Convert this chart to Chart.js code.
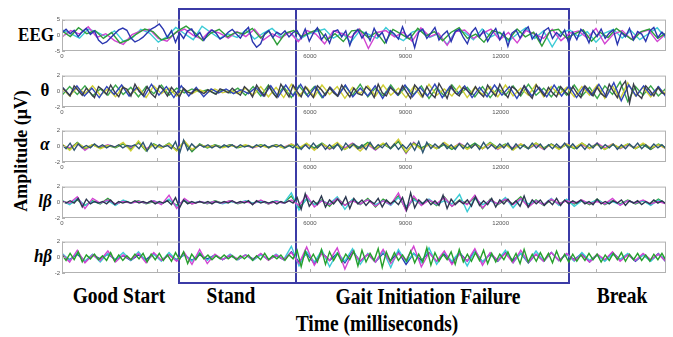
<!DOCTYPE html>
<html>
<head>
<meta charset="utf-8">
<script src="https://cdn.jsdelivr.net/npm/chart.js@4/dist/chart.umd.min.js"></script>
<style>
  body { margin: 0; background: #fff; }
  #wrap { position: relative; width: 673px; height: 337px; overflow: hidden; }
  #wrap canvas { position: absolute; left: 0; }
  .lbl { position: absolute; font-family: "Liberation Serif", "Times New Roman", serif; font-weight: bold; font-size: 17px; color: #000; white-space: nowrap; transform: translate(-50%, -50%) scaleY(1.15); }
  .big { font-size: 19.5px; }
  .it { font-style: italic; }
  .box { position: absolute; border: 2px solid #3b3ba6; box-sizing: border-box; }
</style>
</head>
<body>
<div id="wrap">
  <div class="lbl" style="left:36px;top:35px">EEG</div>
  <div class="lbl" style="left:45px;top:90px">θ</div>
  <div class="lbl it" style="left:45px;top:144px">α</div>
  <div class="lbl it" style="left:45px;top:201px">lβ</div>
  <div class="lbl it" style="left:43px;top:256px">hβ</div>
  <div class="lbl" style="left:21px;top:151px;font-size:18px;transform:translate(-50%,-50%) rotate(-90deg) scaleY(1.1)">Amplitude (μV)</div>
  <div class="lbl big" style="left:119px;top:296px">Good Start</div>
  <div class="lbl big" style="left:231px;top:296px">Stand</div>
  <div class="lbl big" style="left:428px;top:297px">Gait Initiation Failure</div>
  <div class="lbl big" style="left:622px;top:296px">Break</div>
  <div class="lbl big" style="left:377px;top:324px">Time (milliseconds)</div>
  <div class="box" style="left:178px;top:8px;width:392px;height:276px"></div>
  <div class="box" style="left:295px;top:8px;width:2px;height:276px;border-width:0 0 0 2px"></div>
</div>
<script>
// time span of the stitched record (ms) and the x tick marks
const spanMs = 19000;
const xTickPos = [0, 3000, 7800, 10800, 13800, 16800];
const xTickText = ['0', '', '6000', '9000', '12000', ''];

// EEG (raw)
const eegCh1 = [0.8,1.9,0.5,1.6,-0.4,1.1,2.2,0.3,1.4,-1.5,-2.7,-2.1,-0.8,0.5,1.7,2.3,1.6,-0.9,-2.1,-1.5,-0.6,0.7,2.0,2.7,3.6,1.9,-0.7,1.5,-2.2,0.8,
  -1.0,1.4,2.0,-0.4,0.9,-1.6,0.5,1.7,0.7,-1.2,-0.4,1.0,1.9,0.4,-0.9,1.2,2.5,-2.0,-3.8,-2.7,0.5,1.5,-0.7,1.0,0.2,1.4,-0.5,0.9,
  1.5,-1.0,2.0,-1.9,0.7,2.4,-1.4,0.4,-2.5,1.2,1.7,-0.5,1.4,-3.2,0.5,1.9,-0.9,1.0,-1.7,2.2,-0.4,0.9,-2.2,1.5,0.4,-1.2,2.7,-0.7,0.5,-3.9,
  1.0,2.0,-1.0,0.7,2.5,-1.5,0.2,1.4,-2.0,1.2,1.9,-0.7,-2.7,0.9,2.4,-0.5,1.5,-1.9,0.4,2.2,-1.4,1.0,-3.5,0.7,1.7,-0.9,1.4,2.7,-1.2,0.5,
  -2.0,1.5,2.4,-1.0,0.9,-0.4,1.7,-2.5,
  1.0,-1.4,1.9,0.5,-2.4,1.5,-0.4,2.0,-1.0,0.7,1.7,-2.9,0.9,-0.5,2.2,-1.5,1.2,0.4,-1.9,1.4,2.5,-0.7,1.0,-0.4];
const eegCh2 = [1.4,-0.4,2.4,0.5,1.5,-1.0,0.9,-2.4,-1.5,0.4,2.0,1.2,-1.5,-0.7,1.4,2.9,1.0,-1.7,0.7,1.9,
  -0.5,1.0,0.4,2.2,-0.9,1.4,-3.0,0.7,1.5,-0.4,
  0.9,2.0,-1.5,0.5,-2.0,1.4,1.7,-0.7,1.0,-2.5,1.9,0.4,-1.2,2.2,-0.2,1.2,-1.7,0.9,2.4,-1.0,
  0.4,-2.2,1.5,0.7,-1.4,2.0,-0.5,1.0,-3.4,1.4,1.9,-0.9,
  0.5,1.7,-1.9,1.0,-0.7,2.2,0.2,-1.5,1.2,2.0,-1.0,0.7];
const eegCh3 = [-0.5,1.5,0.4,2.7,-0.7,0.5,-1.7,-2.9,0.2,1.4,1.9,-1.0,-1.9,0.9,2.0,0.0,-1.2,1.7,0.7,-0.9,
  1.2,-0.4,1.9,-1.5,0.5,-0.9,1.0,-2.0,1.5,0.4,
  -2.7,1.4,0.5,-0.7,2.0,-4.2,0.9,1.5,-0.5,1.0,-1.9,2.4,-0.4,0.7,-3.2,1.2,1.7,-1.0,0.5,2.0,
  -1.4,0.9,-2.4,1.5,0.4,-1.0,1.9,-1.7,0.7,1.4,
  -0.9,2.2,-2.7,0.4,1.5,-1.2,0.9,1.7,-2.0,0.5];
const eegCh4 = [1.7,0.5,-0.9,2.0,1.0,-0.4,1.4,-1.9,-0.9,1.9,0.7,-2.2,-0.4,2.5,0.5,-1.4,2.9,0.9,-1.0,0.4,
  -0.7,1.7,-1.2,0.7,2.2,-0.5,1.0,-1.5,0.2,1.2,
  2.0,-0.9,0.7,-2.2,1.4,0.4,-1.0,2.5,-0.2,-1.7,1.0,1.9,-0.7,0.5,-2.9,1.5,0.9,-1.4,2.0,-0.5,
  1.0,-1.9,0.4,2.4,-1.0,1.4,-3.7,0.9,1.7,-0.4,
  1.2,-2.2,0.7,1.9,-0.9,1.5,-1.4,0.5,2.4,-1.0];

// theta band
const thetaCh1 = [0.5,0.0,-0.6,0.7,0.1,-0.5,0.4,-0.2,-0.8,0.6,0.2,-0.4,0.8,-0.1,-0.7,0.5,0.3,-0.6,0.9,0.0,-0.5,0.6,-0.3,-0.8,0.7,0.2,-0.6,0.5,-0.1,-0.7,
  0.4,-0.1,-0.3,0.3,0.0,-0.3,0.2,-0.1,-0.4,0.3,0.1,-0.2,0.4,-0.1,-0.5,0.6,0.1,-0.7,0.8,0.0,-0.6,0.7,-0.2,-0.8,0.9,0.1,-0.7,0.8,
  0.0,-0.7,0.6,-0.1,-0.8,0.7,0.2,-0.5,0.5,-0.2,-0.6,0.8,0.0,-0.7,0.4,-0.3,-0.5,0.6,0.1,-0.8,0.9,-0.2,-0.6,0.5,0.0,-0.4,0.7,-0.1,-0.9,0.8,
  0.2,-0.7,0.6,-0.3,-0.8,1.0,0.1,-0.9,0.7,-0.2,-0.6,0.5,0.1,-0.4,0.6,-0.2,-0.7,0.8,0.0,-0.6,0.9,-0.1,-0.8,0.6,0.2,-0.5,0.7,-0.3,-0.9,0.8,
  0.1,-0.6,0.5,-0.2,-0.7,0.6,0.0,-0.5,
  0.6,-0.2,-0.8,0.7,0.1,-0.6,0.5,-0.3,-0.7,0.9,0.0,-0.8,0.6,1.3,-1.5,0.9,-0.4,-0.9,0.7,0.1,-0.6,0.5,-0.2,-0.4];
const thetaCh2 = [0.6,-0.5,0.7,-0.6,0.4,-0.8,0.6,-0.4,0.8,-0.6,0.5,-0.7,0.9,-0.5,0.6,-0.8,0.7,-0.6,0.5,-0.7,
  0.3,-0.2,0.3,-0.3,0.2,-0.3,0.5,-0.6,0.7,-0.7,0.8,-0.6,0.9,
  -0.7,0.6,-0.8,0.5,-0.6,0.8,-0.7,0.4,-0.6,0.7,-0.9,0.6,-0.5,0.8,-0.7,0.5,-0.6,0.9,-0.8,0.6,-0.4,0.7,-0.8,0.5,-0.7,0.8,-0.5,0.6,-0.9,0.7,-0.6,0.5,-0.7,0.8,-0.6,
  0.7,-0.8,0.6,-0.5,0.9,-0.7,1.1,-1.2,0.8,-0.6,0.7,-0.5,0.6,-0.7];
const thetaCh3 = [0.4,-0.6,0.5,-0.3,0.7,-0.5,0.3,-0.7,0.6,-0.4,0.5,-0.8,0.7,-0.3,0.4,-0.6,
  0.2,-0.3,0.2,-0.2,0.3,-0.2,0.1,-0.3,0.4,-0.5,0.6,-0.7,0.5,-0.8,0.9,
  -0.6,0.5,-0.7,0.8,-0.4,0.6,-0.9,0.5,-0.3,0.7,-0.6,0.8,-0.5,0.4,-0.8,0.6,-0.7,0.9,-0.5,0.3,-0.6,0.7,-0.8,0.5,-0.4,0.6,-0.7,0.8,-0.6,0.4,-0.5,0.9,-0.7,0.6,-0.4,0.5,
  -0.7,0.6,-0.5,0.8,-0.9,0.7,-1.0,1.1,-0.6,0.5,-0.7,0.4,-0.3];
const thetaCh4 = [-0.5,0.6,-0.4,0.7,-0.6,0.3,-0.5,0.8,-0.4,0.5,-0.7,0.6,-0.3,0.8,-0.5,0.4,
  -0.2,0.3,-0.1,0.2,-0.3,0.2,-0.2,0.4,-0.5,0.6,-0.6,0.8,-0.7,0.6,-0.8,
  0.7,-0.5,0.6,-0.8,0.4,-0.6,0.7,-0.5,0.9,-0.7,0.4,-0.6,0.8,-0.5,0.6,-0.4,0.7,-0.9,0.5,-0.6,0.8,-0.4,0.5,-0.7,0.6,-0.8,0.4,-0.5,0.7,-0.6,0.9,-0.5,0.4,-0.7,0.6,-0.5,
  0.8,-0.6,0.5,-0.9,0.7,-0.4,1.2,-1.3,0.6,-0.5,0.7,-0.6,0.4];

// alpha band
const alphaCh1 = [0.2,-0.3,0.4,-0.5,0.3,-0.2,0.1,-0.2,0.3,-0.1,0.2,-0.2,0.1,-0.1,0.2,-0.2,0.1,0.0,0.2,-0.3,0.5,-0.6,0.4,-0.3,0.2,-0.1,0.1,-0.3,0.6,-0.9,
  0.8,-0.5,0.3,-0.2,0.2,-0.1,0.2,-0.2,0.1,-0.2,0.2,-0.1,0.2,-0.2,0.2,-0.1,0.1,-0.2,0.2,-0.1,0.2,-0.2,0.1,-0.1,0.2,-0.2,0.1,-0.2,
  0.3,-0.4,0.2,-0.3,0.4,-0.2,0.3,-0.4,0.2,-0.3,0.3,-0.5,0.4,-0.2,0.3,-0.3,0.2,-0.4,0.5,-0.3,0.2,-0.2,0.4,-0.3,0.3,-0.4,0.2,-0.3,0.4,-0.5,
  0.6,-0.8,0.5,-0.3,0.3,-0.2,0.4,-0.3,0.2,-0.4,0.3,-0.3,0.4,-0.2,0.3,-0.4,0.5,-0.3,0.2,-0.3,0.3,-0.2,0.4,-0.4,0.3,-0.3,0.2,-0.3,0.4,-0.2,
  0.3,-0.4,0.2,-0.3,0.3,-0.2,0.4,-0.3,
  0.3,-0.3,0.2,-0.4,0.3,-0.2,0.4,-0.3,0.2,-0.2,0.3,-0.4,0.2,-0.3,0.3,-0.2,0.4,-0.3,0.2,-0.3,0.3,-0.2,0.2,-0.3];
const alphaCh2 = [0.3,-0.5,0.4,-0.2,0.2,-0.3,0.1,-0.1,0.5,-0.6,0.7,-0.5,0.2,-0.2,0.3,-0.6,
  0.7,-0.4,0.2,-0.1,0.1,-0.2,0.1,-0.1,0.2,-0.1,0.1,-0.2,0.1,-0.2,
  0.3,-0.2,0.4,-0.5,0.3,-0.2,0.5,-0.4,0.2,-0.6,0.3,-0.3,0.4,-0.2,0.9,-0.7,0.3,-0.4,0.2,-0.3,0.5,-0.2,0.3,-0.4,0.2,-0.3,0.4,-0.3,0.2,-0.5,0.3,-0.2,0.4,-0.3,0.2,-0.4,
  0.3,-0.2,0.4,-0.3,0.2,-0.4,0.3,-0.2,0.3,-0.3,0.4,-0.2,0.2,-0.3];
const alphaCh3 = [0.2,-0.4,0.5,-0.3,0.2,-0.2,0.1,-0.2,0.3,-0.4,0.5,-0.6,0.3,-0.2,0.4,-0.5,
  0.6,-0.7,0.3,-0.2,0.2,-0.1,0.2,-0.2,0.1,-0.1,0.2,-0.1,0.2,-0.2,
  0.2,-0.3,0.3,-0.2,0.4,-0.3,0.2,-0.4,0.3,-0.2,0.5,-0.4,0.3,-0.3,0.6,-0.8,0.4,-0.2,0.3,-0.3,0.2,-0.4,0.3,-0.2,0.4,-0.3,0.5,-0.2,0.3,-0.4,0.2,-0.3,0.4,-0.2,0.3,-0.3,
  0.2,-0.3,0.4,-0.2,0.3,-0.4,0.2,-0.2,0.3,-0.3,0.2,-0.4,0.3,-0.2];
const alphaCh4 = [0.1,-0.2,0.4,-0.5,0.2,-0.1,0.2,-0.1,0.3,-0.2,0.4,-0.3,0.2,-0.1,0.2,-0.4,
  0.5,-0.6,0.2,-0.1,0.1,-0.1,0.2,-0.1,0.1,-0.2,0.1,-0.1,0.2,-0.1,
  0.3,-0.2,0.2,-0.3,0.3,-0.4,0.2,-0.2,0.4,-0.3,0.2,-0.5,0.3,-0.2,0.7,-0.9,0.5,-0.3,0.2,-0.2,0.3,-0.3,0.4,-0.2,0.2,-0.3,0.3,-0.4,0.2,-0.2,0.3,-0.3,0.2,-0.4,0.3,-0.2,
  0.3,-0.2,0.2,-0.3,0.4,-0.2,0.3,-0.3,0.2,-0.2,0.3,-0.4,0.2,-0.3];

// low beta band
const lowBetaCh1 = [0.1,-0.1,0.2,-0.1,0.5,-0.6,0.4,-0.2,0.1,-0.1,0.1,-0.2,0.3,-0.3,0.1,-0.1,0.1,-0.1,0.2,-0.1,0.1,-0.1,0.2,-0.2,0.1,-0.1,0.2,-0.3,0.6,-0.7,
  0.3,-0.2,0.1,-0.1,0.1,-0.1,0.1,-0.2,0.1,-0.1,0.1,-0.1,0.2,-0.1,0.1,-0.1,0.2,-0.3,0.2,-0.1,0.1,-0.1,0.1,-0.2,0.1,-0.1,0.2,-0.1,
  0.6,-0.9,1.1,-0.5,0.2,-0.3,0.8,-0.6,0.3,-0.2,0.4,-0.3,0.7,-0.8,0.5,-0.2,0.3,-0.4,0.2,-0.2,0.5,-0.6,0.3,-0.2,0.2,-0.3,0.6,-1.0,1.2,-0.7,
  0.3,-0.2,0.4,-0.3,0.2,-0.4,0.9,-0.8,0.4,-0.3,0.2,-0.2,0.3,-0.5,0.7,-0.4,0.2,-0.3,0.5,-0.6,0.3,-0.2,0.4,-0.3,0.2,-0.5,0.8,-0.6,0.3,-0.2,
  0.3,-0.4,0.2,-0.3,0.5,-0.4,0.3,-0.2,
  0.2,-0.1,0.3,-0.2,0.1,-0.3,0.4,-0.2,0.1,-0.2,0.2,-0.1,0.3,-0.4,0.2,-0.1,0.2,-0.3,0.1,-0.2,0.3,-0.1,0.2,-0.2];
const lowBetaCh2 = [0.1,-0.1,0.7,-0.8,0.5,-0.1,0.3,-0.2,0.1,-0.1,0.1,-0.1,0.2,-0.3,0.9,-0.8,
  0.5,-0.2,0.1,-0.1,0.1,-0.1,0.2,-0.1,0.1,-0.2,0.3,-0.2,0.1,-0.1,
  0.3,-0.4,0.9,-0.6,0.2,-0.3,0.5,-0.4,0.2,-0.2,0.3,-0.5,0.2,-0.3,1.2,-1.1,0.8,-0.4,0.3,-0.2,0.6,-0.5,0.2,-0.3,0.9,-0.7,0.3,-0.2,0.4,-0.3,0.5,-0.6,0.2,-0.3,0.4,-0.2,
  0.2,-0.1,0.3,-0.2,0.1,-0.2,0.5,-0.4,0.2,-0.1,0.3,-0.2,0.1,-0.2];
const lowBetaCh3 = [0.2,-0.3,0.5,-0.4,0.1,-0.1,0.2,-0.4,0.3,-0.1,0.1,-0.1,0.2,-0.2,0.4,-0.5,
  0.3,-0.1,0.1,-0.1,0.1,-0.2,0.1,-0.1,0.2,-0.1,0.1,-0.1,0.2,-0.1,
  1.2,-1.0,0.5,-0.3,0.2,-0.2,0.7,-0.9,0.4,-0.2,0.3,-0.3,0.2,-0.4,0.6,-0.5,0.3,-0.2,0.4,-0.3,0.2,-0.2,1.0,-1.2,0.5,-0.3,0.2,-0.2,0.6,-0.7,0.4,-0.2,0.2,-0.3,0.5,-0.4,
  0.4,-0.5,0.2,-0.1,0.3,-0.2,0.1,-0.3,0.2,-0.1,0.2,-0.4,0.3,-0.2];
const lowBetaCh4 = [0.2,-0.2,0.3,-0.4,0.2,-0.2,0.5,-0.3,0.2,-0.1,0.2,-0.2,0.1,-0.2,0.3,-0.4,
  0.2,-0.2,0.1,-0.2,0.2,-0.1,0.2,-0.2,0.1,-0.1,0.2,-0.2,0.2,-0.1,
  0.8,-0.7,0.4,-0.3,0.3,-0.5,0.6,-0.4,0.3,-0.3,0.5,-0.6,0.4,-0.2,0.8,-0.9,0.5,-0.3,0.3,-0.4,0.7,-0.5,0.3,-0.2,0.6,-0.8,0.4,-0.3,0.3,-0.2,0.7,-0.6,0.3,-0.4,0.3,-0.2,
  0.3,-0.2,0.2,-0.3,0.4,-0.3,0.2,-0.2,0.3,-0.2,0.2,-0.3,0.4,-0.2];

// high beta band
const highBetaCh1 = [0.3,-0.4,0.5,-0.3,0.7,-0.6,0.3,-0.2,0.4,-0.3,0.2,-0.4,0.6,-0.5,0.3,-0.4,0.2,-0.3,0.4,-0.2,0.5,-0.6,0.4,-0.3,0.5,-0.4,0.3,-0.5,0.6,-0.3,
  0.7,-0.8,0.4,-0.3,0.5,-0.2,0.3,-0.3,0.2,-0.2,0.3,-0.2,0.2,-0.3,0.2,-0.2,0.3,-0.4,0.2,-0.3,0.5,-0.3,0.2,-0.2,0.3,-0.4,0.3,-0.2,
  0.9,-1.2,0.8,-0.5,0.4,-0.6,1.0,-0.9,0.7,-0.4,0.5,-0.6,0.4,-0.3,0.8,-1.1,0.9,-0.6,0.5,-0.4,1.1,-1.3,0.7,-0.5,0.6,-0.4,0.3,-0.5,0.8,-0.7,
  0.4,-0.6,1.2,-1.0,0.6,-0.5,0.4,-0.3,0.7,-0.9,1.0,-0.6,0.4,-0.5,0.6,-0.4,0.9,-0.8,0.5,-0.6,0.4,-0.3,0.7,-0.5,0.5,-0.8,1.0,-0.6,0.4,-0.5,
  0.6,-0.4,0.5,-0.7,0.8,-0.5,0.4,-0.6,
  0.4,-0.5,0.3,-0.4,0.5,-0.3,0.4,-0.6,0.3,-0.4,0.5,-0.3,0.6,-0.5,0.4,-0.3,0.5,-0.4,0.3,-0.5,0.4,-0.3,0.5,-0.4];
const highBetaCh2 = [0.4,-0.6,0.9,-0.7,0.3,-0.4,0.8,-0.6,0.3,-0.3,0.5,-0.7,0.6,-0.4,0.3,-0.5,
  0.6,-0.9,1.0,-0.8,0.4,-0.3,0.3,-0.2,0.3,-0.3,0.5,-0.4,0.3,-0.3,
  0.6,-0.8,1.3,-1.0,0.5,-0.4,1.2,-1.5,0.7,-0.5,0.4,-0.6,1.0,-0.8,0.5,-0.4,1.4,-1.2,0.6,-0.5,0.8,-0.9,0.4,-0.5,1.1,-1.0,0.6,-0.4,0.5,-0.7,0.9,-0.6,0.4,-0.5,0.6,-0.4,
  0.5,-0.4,0.3,-0.6,0.4,-0.3,0.7,-0.5,0.3,-0.4,0.5,-0.3,0.4,-0.5];
const highBetaCh3 = [0.5,-0.4,0.6,-0.5,0.4,-0.6,0.5,-0.3,0.6,-0.4,0.7,-0.5,0.4,-0.5,0.6,-0.4,
  0.4,-0.5,0.6,-0.4,0.3,-0.3,0.4,-0.3,0.3,-0.4,0.3,-0.3,0.4,-0.3,
  1.4,-1.1,0.7,-0.6,0.9,-1.2,0.6,-0.5,1.1,-0.9,0.5,-0.6,0.8,-1.3,1.0,-0.6,0.5,-0.7,1.2,-0.9,0.6,-0.5,0.7,-1.1,0.8,-0.6,0.5,-0.4,0.9,-0.7,0.5,-0.6,0.8,-0.5,0.6,-0.4,
  0.4,-0.5,0.6,-0.4,0.3,-0.5,0.4,-0.3,0.5,-0.4,0.3,-0.5,0.4,-0.3];
const highBetaCh4 = [0.3,-0.3,0.4,-0.5,0.3,-0.2,0.4,-0.3,0.2,-0.4,0.3,-0.3,0.5,-0.4,0.3,-0.3,
  0.3,-0.4,0.3,-0.2,0.3,-0.3,0.2,-0.3,0.3,-0.2,0.4,-0.3,0.2,-0.3,
  0.7,-0.6,0.5,-0.8,0.6,-0.4,0.5,-0.7,0.8,-0.5,0.4,-0.6,0.5,-0.4,0.7,-0.9,0.5,-0.4,0.6,-0.5,0.4,-0.7,0.6,-0.5,0.8,-0.6,0.4,-0.5,0.6,-0.4,0.5,-0.7,0.4,-0.5,0.6,-0.4,
  0.4,-0.3,0.5,-0.6,0.3,-0.4,0.6,-0.3,0.4,-0.5,0.3,-0.4,0.5,-0.6];

// one strip per band, channels listed top-most first
const rows = [
  { top: 16,  range: 5, series: [eegCh1, eegCh2, eegCh3, eegCh4],
    colors: ['#2a36b0', '#2f9e3a', '#d244d2', '#3ccbd6'], xLabels: true },
  { top: 72,  range: 2, series: [thetaCh1, thetaCh2, thetaCh3, thetaCh4],
    colors: ['#3a3d4a', '#2f45b8', '#cfcf35', '#3aa84a'], xLabels: true },
  { top: 127, range: 2, series: [alphaCh1, alphaCh2, alphaCh3, alphaCh4],
    colors: ['#2d5570', '#cfcf35', '#2f9e3a', '#d050d0'], xLabels: true },
  { top: 183, range: 2, series: [lowBetaCh1, lowBetaCh2, lowBetaCh3, lowBetaCh4],
    colors: ['#2c3850', '#d244d2', '#3ccbd6', '#2f9e3a'], xLabels: true },
  { top: 238, range: 2, series: [highBetaCh1, highBetaCh2, highBetaCh3, highBetaCh4],
    colors: ['#26a02c', '#d244d2', '#3ccbd6', '#2a36b0'], xLabels: false }
];

const toPoints = vals => vals.map((v, i) => ({ x: i * spanMs / (vals.length - 1), y: v }));

const framePlugin = {
  id: 'frame',
  afterDraw(chart) {
    const { ctx, chartArea: a, scales: { x, y } } = chart;
    ctx.save();
    ctx.strokeStyle = '#b2b2b2';
    ctx.lineWidth = 1;
    ctx.strokeRect(a.left + 0.5, a.top + 0.5, a.width - 1, a.height - 1);
    ctx.beginPath();
    x.ticks.forEach(t => {
      const px = Math.round(x.getPixelForValue(t.value)) + 0.5;
      ctx.moveTo(px, a.top); ctx.lineTo(px, a.top + 4);
      ctx.moveTo(px, a.bottom); ctx.lineTo(px, a.bottom - 4);
    });
    y.ticks.forEach(t => {
      const py = Math.round(y.getPixelForValue(t.value)) + 0.5;
      ctx.moveTo(a.left, py); ctx.lineTo(a.left + 3, py);
    });
    ctx.stroke();
    ctx.restore();
  }
};

const wrap = document.getElementById('wrap');
rows.forEach(row => {
  const canvas = document.createElement('canvas');
  canvas.width = 673;
  canvas.height = 47;
  canvas.style.top = (row.top - 2) + 'px';
  canvas.style.width = '673px';
  canvas.style.height = '47px';
  wrap.appendChild(canvas);

  new Chart(canvas.getContext('2d'), {
    type: 'line',
    data: {
      datasets: row.series.map((vals, i) => ({
        data: toPoints(vals),
        borderColor: row.colors[i],
        borderWidth: 1.4,
        pointRadius: 0,
        tension: 0
      }))
    },
    options: {
      responsive: false,
      animation: false,
      events: [],
      layout: { padding: { left: 50, right: 7, top: 2, bottom: 0 } },
      plugins: { legend: { display: false }, tooltip: { enabled: false } },
      scales: {
        x: {
          type: 'linear', min: 0, max: spanMs,
          afterBuildTicks: s => { s.ticks = xTickPos.map(v => ({ value: v })); },
          afterFit: s => { s.height = 10; },
          grid: { display: false, drawTicks: false }, border: { display: false },
          ticks: {
            autoSkip: false, maxRotation: 0, padding: 2,
            font: { size: 6, family: 'Arial, "Liberation Sans", sans-serif' }, color: '#555',
            callback: (v, i) => row.xLabels ? xTickText[i] : ''
          }
        },
        y: {
          min: -row.range, max: row.range,
          afterBuildTicks: s => { s.ticks = [-row.range, 0, row.range].map(v => ({ value: v })); },
          afterFit: s => { s.width = 12; },
          grid: { display: false, drawTicks: false }, border: { display: false },
          ticks: { padding: 2, font: { size: 6, family: 'Arial, "Liberation Sans", sans-serif' }, color: '#555' }
        }
      }
    },
    plugins: [framePlugin]
  });
});
</script>
</body>
</html>
